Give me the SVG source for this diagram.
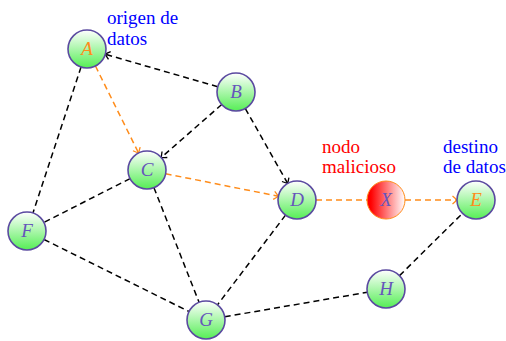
<svg xmlns="http://www.w3.org/2000/svg" width="506" height="341" viewBox="0 0 506 341">
<defs>
<linearGradient id="gGreen" x1="0" y1="0" x2="0" y2="1">
<stop offset="0" stop-color="#ffffff"/>
<stop offset="1" stop-color="#55ee55"/>
</linearGradient>
<linearGradient id="gRed" x1="0" y1="0" x2="1" y2="0">
<stop offset="0.1" stop-color="#ff0000"/>
<stop offset="1" stop-color="#ffffff"/>
</linearGradient>
<marker id="arrK" markerUnits="userSpaceOnUse" markerWidth="12" markerHeight="12" viewBox="-6 -6 12 12" refX="0" refY="0" orient="auto">
<path d="M-4.5,-4 Q-1,-1 0,0 Q-1,1 -4.5,4" fill="none" stroke="#000" stroke-width="1.3"/>
</marker>
<marker id="arrO" markerUnits="userSpaceOnUse" markerWidth="12" markerHeight="12" viewBox="-6 -6 12 12" refX="0" refY="0" orient="auto">
<path d="M-4.5,-4 Q-1,-1 0,0 Q-1,1 -4.5,4" fill="none" stroke="#ff8c1a" stroke-width="1.3"/>
</marker>
</defs>
<style>
.e{fill:none;stroke:#000;stroke-width:1.5;stroke-dasharray:6 4}
.o{fill:none;stroke:#ff8c1a;stroke-width:1.5;stroke-dasharray:6 4}
.n{fill:url(#gGreen);stroke:#5b4aa0;stroke-width:1.6}
.x{fill:url(#gRed);stroke:#ff8c1a;stroke-width:1}
.l{font-style:italic;fill:#6655bb;text-anchor:middle}
.lo{fill:#ff8c1a}
.b{fill:#0000ff}
.r{fill:#ff0000}
</style>
<g id="connectors">
<line class="e" x1="81.05" y1="67.05" x2="32.95" y2="212.95"/>
<line class="e" x1="217.74" y1="86.73" x2="105.26" y2="54.27" marker-end="url(#arrK)"/>
<line class="e" x1="221.71" y1="104.53" x2="161.29" y2="157.48" marker-end="url(#arrK)"/>
<line class="e" x1="245.35" y1="108.55" x2="287.65" y2="183.45" marker-end="url(#arrK)"/>
<line class="e" x1="130.07" y1="178.61" x2="43.93" y2="222.39"/>
<line class="e" x1="153.95" y1="187.68" x2="199.05" y2="302.32"/>
<line class="e" x1="285.52" y1="215.14" x2="217.48" y2="304.86"/>
<line class="e" x1="44.01" y1="239.46" x2="188.99" y2="311.54"/>
<line class="e" x1="224.72" y1="316.78" x2="367.28" y2="292.22"/>
<line class="e" x1="399.51" y1="275.64" x2="462.49" y2="213.36"/>
<line class="o" x1="95.44" y1="66.02" x2="138.56" y2="152.98" marker-end="url(#arrO)"/>
<line class="o" x1="165.63" y1="173.73" x2="278.37" y2="196.27" marker-end="url(#arrO)"/>
<line class="o" x1="316" y1="200" x2="367" y2="200"/>
<line class="o" x1="405" y1="200" x2="457" y2="200" marker-end="url(#arrO)"/>
</g>
<g id="A"><circle class="n" cx="87" cy="49" r="19"/><text class="l lo" font-family="Liberation Serif" font-size="19" x="87" y="55">A</text></g>
<g id="B"><circle class="n" cx="236" cy="92" r="19"/><text class="l" font-family="Liberation Serif" font-size="19" x="236" y="98">B</text></g>
<g id="C"><circle class="n" cx="147" cy="170" r="19"/><text class="l" font-family="Liberation Serif" font-size="19" x="147" y="176">C</text></g>
<g id="D"><circle class="n" cx="297" cy="200" r="19"/><text class="l" font-family="Liberation Serif" font-size="19" x="297" y="206">D</text></g>
<g id="X"><circle class="x" cx="386" cy="200" r="19"/><text class="l" font-family="Liberation Serif" font-size="19" x="386" y="206">X</text></g>
<g id="E"><circle class="n" cx="476" cy="200" r="19"/><text class="l lo" font-family="Liberation Serif" font-size="19" x="476" y="206">E</text></g>
<g id="F"><circle class="n" cx="27" cy="231" r="19"/><text class="l" font-family="Liberation Serif" font-size="19" x="27" y="237">F</text></g>
<g id="G"><circle class="n" cx="206" cy="320" r="19"/><text class="l" font-family="Liberation Serif" font-size="19" x="206" y="326">G</text></g>
<g id="H"><circle class="n" cx="386" cy="289" r="19"/><text class="l" font-family="Liberation Serif" font-size="19" x="386" y="295">H</text></g>
<g id="labels">
<text class="b" font-family="Liberation Serif" font-size="19" x="107" y="24">origen de</text>
<text class="b" font-family="Liberation Serif" font-size="19" x="107" y="45">datos</text>
<text class="r" font-family="Liberation Serif" font-size="19" x="322" y="153">nodo</text>
<text class="r" font-family="Liberation Serif" font-size="19" x="322" y="173">malicioso</text>
<text class="b" font-family="Liberation Serif" font-size="19" x="443" y="153">destino</text>
<text class="b" font-family="Liberation Serif" font-size="19" x="443" y="173">de datos</text>
</g>
</svg>
